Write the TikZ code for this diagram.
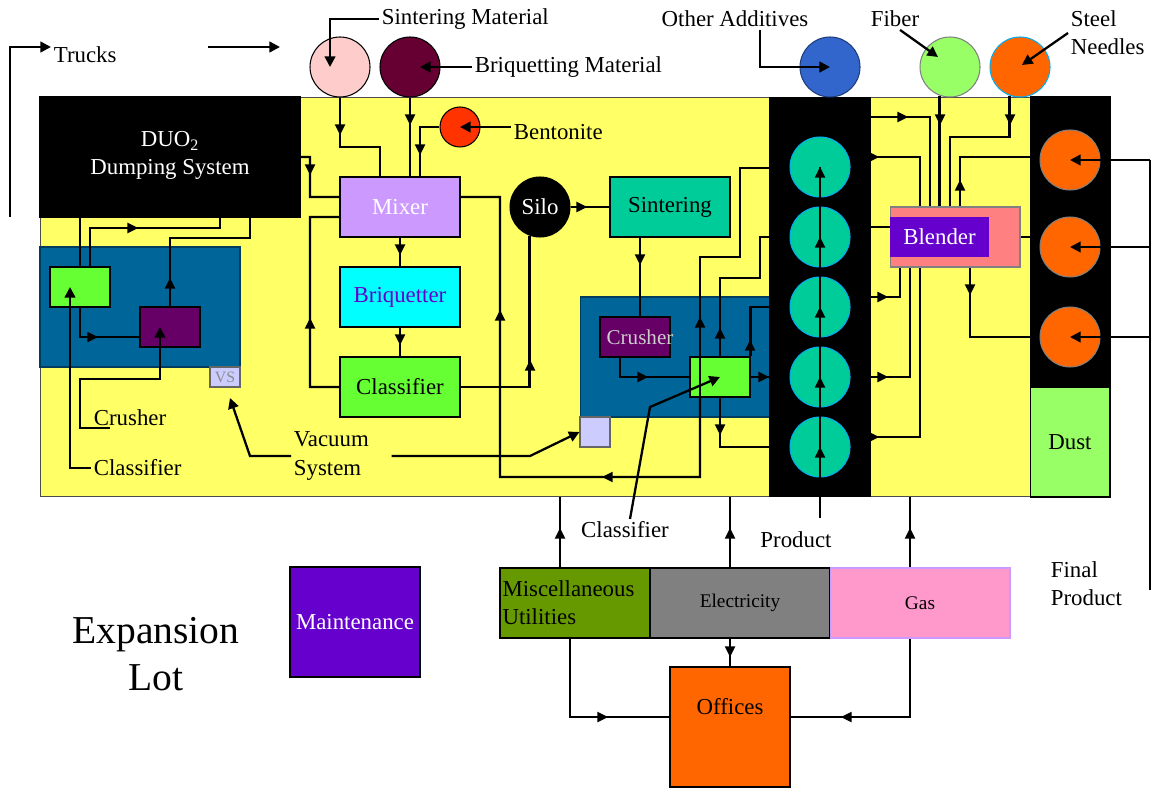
\documentclass[tikz,border=0pt]{standalone}
\usepackage{fontspec}
\setmainfont{Liberation Serif}
\usetikzlibrary{arrows.meta,positioning}

\definecolor{plantc}{HTML}{FFFF66}
\definecolor{zonec}{HTML}{006699}
\definecolor{grnc}{HTML}{66FF33}
\definecolor{crushc}{HTML}{660066}
\definecolor{vacc}{HTML}{CCCCFF}
\definecolor{sinmatc}{HTML}{FFCCCC}
\definecolor{brqmatc}{HTML}{660033}
\definecolor{bentc}{HTML}{FF3300}
\definecolor{mixerc}{HTML}{CC99FF}
\definecolor{briqc}{HTML}{00FFFF}
\definecolor{violetc}{HTML}{6600CC}
\definecolor{sinterc}{HTML}{00CC99}
\definecolor{addc}{HTML}{3366CC}
\definecolor{fibc}{HTML}{99FF66}
\definecolor{orngc}{HTML}{FF6600}
\definecolor{blendc}{HTML}{FF8080}
\definecolor{miscc}{HTML}{669900}
\definecolor{elecc}{HTML}{808080}
\definecolor{gasc}{HTML}{FF99CC}

\tikzset{
  box/.style={rectangle, draw, line width=0.6pt, inner sep=0pt},
  disc/.style={circle, draw, line width=0.6pt, minimum size=1.2cm, inner sep=0pt},
  lbl/.style={inner sep=1pt},
  arr/.style={-{Triangle[length=6pt,width=6pt]}}
}
% arrow head in the middle of a line: tip point, direction
\newcommand{\flowtip}[2]{\fill[shift={#1}, rotate=#2] (0,0) -- (-6pt,3pt) -- (-6pt,-3pt) -- cycle;}

\begin{document}
\begin{tikzpicture}[x=0.02cm, y=-0.02cm, line width=1.3pt,
  every node/.style={font=\fontsize{13}{16}\selectfont}]
\useasboundingbox (0,0) rectangle (1151,790);

% plant floor
\node[box, fill=plantc, draw=black!70, minimum width=21.4cm, minimum height=8cm] (plant) at (575,297) {};
\node[box, fill=black, text=white, minimum width=5.2cm, minimum height=2.4cm, align=center, text depth=0.15cm] (duo) at (170,157) {DUO\textsubscript{2}\\Dumping System};
\node[box, fill=zonec, draw=zonec!60!black, minimum width=4cm, minimum height=2.4cm] (zoneA) at (140,307) {};
\node[box, fill=zonec, draw=zonec!60!black, minimum width=3.8cm, minimum height=2.4cm] (zoneB) at (675,357) {};
\node[box, fill=black, minimum width=2cm, minimum height=8cm] (col1) at (820,297) {};
\node[box, fill=black, minimum width=1.6cm, minimum height=5.8cm] (col2) at (1070,242) {};
\node[box, fill=fibc, minimum width=1.6cm, minimum height=2.2cm] (dust) at (1070,442) {Dust};

% crusher zone
\node[box, fill=grnc, minimum width=1.2cm, minimum height=0.8cm] (grnA) at (80,287) {};
\node[box, fill=crushc, minimum width=1.2cm, minimum height=0.8cm] (crushA) at (170,327) {};
\node[box, fill=vacc, draw=black!60, text=black!45, minimum width=0.6cm, minimum height=0.4cm, font=\fontsize{9}{10}\selectfont] (vsA) at (225,377) {VS};
\node[box, fill=vacc, draw=black!60, minimum width=0.6cm, minimum height=0.6cm] (vsB) at (595,432) {};

% process line
\node[box, fill=mixerc, text=white, minimum width=2.4cm, minimum height=1.2cm] (mixer) at (400,207) {Mixer};
\node[box, fill=briqc, text=violetc, minimum width=2.4cm, minimum height=1.2cm] (briq) at (400,297) {Briquetter};
\node[box, fill=grnc, minimum width=2.4cm, minimum height=1.2cm] (classM) at (400,387) {Classifier};
\node[disc, fill=black, text=white] (silo) at (540,207) {Silo};
\node[box, fill=sinterc, minimum width=2.4cm, minimum height=1.2cm] (sinter) at (670,207) {Sintering};
\node[box, fill=crushc, text=black!20, minimum width=1.4cm, minimum height=0.8cm, font=\fontsize{12}{14}\selectfont] (crushB) at (635,337) {\makebox[0pt]{\hspace{0.2cm}Crusher}};
\node[box, fill=grnc, minimum width=1.2cm, minimum height=0.8cm] (grnB) at (720,377) {};

% raw materials
\node[disc, fill=sinmatc] (sinmat) at (340,67) {};
\node[disc, fill=brqmatc] (brqmat) at (410,67) {};
\node[disc, fill=bentc, minimum size=0.8cm] (bent) at (460,127) {};
\node[disc, fill=addc, draw=addc!60!black] (addit) at (830,67) {};
\node[disc, fill=fibc, draw=gray] (fiber) at (950,67) {};
\node[disc, fill=orngc, draw=cyan] (needle) at (1020,67) {};

\foreach \i/\y in {1/167,2/237,3/307,4/377,5/447}
  \node[disc, fill=sinterc, draw=cyan] (pc\i) at (820,\y) {};
\foreach \i/\y in {1/160,2/247,3/337}
  \node[disc, fill=orngc, draw=gray] (oc\i) at (1070,\y) {};

\node[box, fill=blendc, draw=gray, minimum width=2.6cm, minimum height=1.2cm] (blender) at (955,237) {};
\node[box, draw=none, fill=violetc, text=white, minimum width=1.98cm, minimum height=0.8cm] (blendtag) at (939.5,237) {Blender};

% services
\node[box, fill=miscc, minimum width=3cm, minimum height=1.4cm, align=left, text width=2.9cm] (misc) at (575,603) {Miscellaneous\\Utilities};
\node[box, fill=elecc, minimum width=3.6cm, minimum height=1.4cm, font=\fontsize{11}{13}\selectfont] (elec) at (740,603) {Electricity};
\node[box, fill=gasc, draw=mixerc, minimum width=3.6cm, minimum height=1.4cm, font=\fontsize{11}{13}\selectfont] (gas) at (920,603) {Gas};
\node[box, fill=orngc, minimum width=2.4cm, minimum height=2.4cm, text height=0.35cm, text depth=0.87cm] (office) at (730,727) {Offices};
\node[box, fill=violetc, text=white, minimum width=2.6cm, minimum height=2.2cm] (maint) at (355,622) {Maintenance};
\node[align=center, font=\fontsize{22.5}{27}\selectfont] (explot) at (156,654) {Expansion\\Lot};

% labels
\node[lbl, anchor=west] (trucks) at (51,55) {Trucks};
\node[lbl, anchor=west] (sinmatlbl) at (379,19) {Sintering Material};
\node[lbl, anchor=west] (brqlbl) at (472,67) {Briquetting Material};
\node[lbl, anchor=west] (bentlbl) at (511,132) {Bentonite};
\node[lbl] (addlbl) at (735,19) {Other Additives};
\node[lbl] (fiblbl) at (895,19) {Fiber};
\node[lbl, anchor=west, align=left] (needlbl) at (1068,33) {Steel\\Needles};
\node[lbl, anchor=west, align=left] (fplbl) at (1048,584) {Final\\Product};
\node[lbl] (prodlbl) at (796,540) {Product};
\node[lbl] (cls2lbl) at (625,530) {Classifier};
\node[lbl, anchor=west] (crushlbl) at (91,418) {Crusher};
\node[lbl, anchor=west] (clslbl) at (91,468) {Classifier};
\node[lbl, anchor=west, align=left] (vaclbl) at (291,456) {Vacuum\\System};

\coordinate (trkfoot) at (10,217);
\coordinate (trkA) at (208,47);
\coordinate (trkB) at (280,47);
\coordinate (crushtail) at (110,428);
\coordinate (vstip) at (230,398);
\coordinate (prodfoot) at (820,518);
\coordinate (fpfoot) at (1150,590);

% feeds into the mixer
\draw (sinmat.south) |- (380,147) -- (mixer.north -| 380,0);
\flowtip{(340,135)}{-90}
\draw (brqmat.south) -- (mixer.north -| brqmat.south);
\flowtip{(410,125)}{-90}
\draw (bent.west) -| (mixer.north -| 420,0);
\flowtip{(420,155)}{-90}
\draw (duo.east) -| (310,197) -- ([yshift=0.2cm]mixer.west);
\flowtip{(310,175)}{-90}
\draw (classM.west) -| (310,217) -- ([yshift=-0.2cm]mixer.west);
\flowtip{(310,318)}{90}

% briquetting and sintering
\draw (mixer.south) -- (briq.north);
\flowtip{(400,255)}{-90}
\draw (briq.south) -- (classM.north);
\flowtip{(400,345)}{-90}
\draw (classM.east) -| (silo.-110);
\flowtip{(530,360)}{90}
\draw (silo.east) -- (sinter.west);
\flowtip{(587,207)}{0}
\draw (sinter.south -| 640,0) -- (crushB.north -| 640,0);
\flowtip{(640,265)}{-90}
\draw (crushB.south -| 620,0) |- (grnB.west);
\flowtip{(648,377)}{0}
\draw (grnB.east) -- (col1.west |- grnB.east);
\flowtip{(769,377)}{0}
\draw (grnB.south -| 700,0) -- (700,257) -| (740,168) -- (col1.west |- 0,168);
\flowtip{(700,317)}{90}
\draw (grnB.south -| 700,0) -- (700,477) -| (500,197) -- ([yshift=0.2cm]mixer.east);
\flowtip{(602,477)}{180}
\flowtip{(500,310)}{90}
\draw (grnB.north) -- (720,278) -| (760,237) -- (col1.west |- 0,237);
\flowtip{(720,328)}{90}
\draw (grnB.north east) |- (col1.west |- 0,307);
\flowtip{(750,340)}{90}
\draw (grnB.south) |- (col1.west |- 0,447);
\flowtip{(720,435)}{-90}

% crusher zone
\draw (grnA.north) -- (grnA.north |- duo.south);
\draw ([xshift=0.2cm]grnA.north) |- (220,228) -- (duo.south -| 220,0);
\flowtip{(138,228)}{0}
\draw (crushA.north) |- (250,238) -- (duo.south -| 250,0);
\flowtip{(170,278)}{90}
\draw (grnA.south) |- ([yshift=-0.2cm]crushA.west);
\flowtip{(98,337)}{0}

% product column
\draw (prodfoot) -- (pc1.center);
\foreach \i in {1,...,5}
  {\flowtip{(pc\i.center)}{90}}

% blending
\draw (col1.east |- 0,117) -| (blender.north -| 930,0);
\flowtip{(908,117)}{0}
\draw (fiber.-110) -- (blender.north -| fiber.-110);
\flowtip{(940,125)}{-90}
\draw (needle.-110) |- (950,137) -- (blender.north -| 950,0);
\flowtip{(1010,125)}{-90}
\draw (blender.north -| 960,0) |- (col2.west |- 0,157);
\flowtip{(960,180)}{90}
\draw (col1.east |- 0,157) -| (blender.north -| 920,0);
\flowtip{(879,157)}{0}
\draw (col1.east |- 0,227) -- (blender.west |- 0,227);
\draw (col1.east |- 0,297) -| (blender.south -| 900,0);
\flowtip{(888,297)}{0}
\draw (col1.east |- 0,377) -| (blender.south -| 910,0);
\flowtip{(888,377)}{0}
\draw (col1.east |- 0,437) -| (blender.south -| 920,0);
\flowtip{(879,437)}{0}
\draw (blender.south -| 970,0) |- (col2.west |- 0,337);
\flowtip{(970,295)}{-90}
\draw (blender.east) -- (col2.west |- blender.east);

% services
\draw (misc.north -| 560,0) -- (plant.south -| 560,0);
\flowtip{(560,528)}{90}
\draw (elec.north -| office.north) -- (plant.south -| office.north);
\flowtip{(730,528)}{90}
\draw (gas.north -| 910,0) -- (plant.south -| 910,0);
\flowtip{(910,528)}{90}
\draw (elec.south -| office.north) -- (office.north);
\flowtip{(730,657)}{-90}
\draw (misc.south -| 570,0) |- ([yshift=0.2cm]office.west);
\flowtip{(608,717)}{0}
\draw (gas.south -| 910,0) |- ([yshift=0.2cm]office.east);
\flowtip{(841,717)}{180}

% leaders
\draw[arr] (trkfoot) |- ([yshift=0.16cm]trucks.west);
\draw[arr] (trkA) -- (trkB);
\draw[arr] (sinmatlbl.west) -| ([xshift=-0.2cm]sinmat.center);
\draw[arr] (brqlbl.west) -- ([xshift=0.2cm]brqmat.center);
\draw[arr] (bentlbl.west |- bent.center) -- (bent.center);
\draw[arr] ([xshift=0.5cm]addlbl.south) |- (addit.center);
\draw[arr] ([xshift=0.1cm]fiblbl.south) -- ([shift={(-0.24cm,0.2cm)}]fiber.center);
\draw[arr] (needlbl.west) -- ([shift={(0.04cm,0.04cm)}]needle.center);
\draw (fpfoot) -- (fpfoot |- oc1.center);
\foreach \i in {1,2,3}
  \draw[arr] (fpfoot |- oc\i.center) -- (oc\i.center);
\draw[arr] (crushtail) -| (80,379) -| ([xshift=-0.2cm]crushA.center);
\draw[arr] (clslbl.west) -| ([xshift=-0.2cm]grnA.center);
\draw[arr] (vaclbl.west) -- (250,456) -- (vstip);
\draw[arr] ([xshift=0.4cm]vaclbl.east) -- (530,456) -- (vsB.west);
\draw[arr] ([xshift=0.1cm]cls2lbl.north) -- (650,407) -- (grnB.center);

\end{tikzpicture}
\end{document}
